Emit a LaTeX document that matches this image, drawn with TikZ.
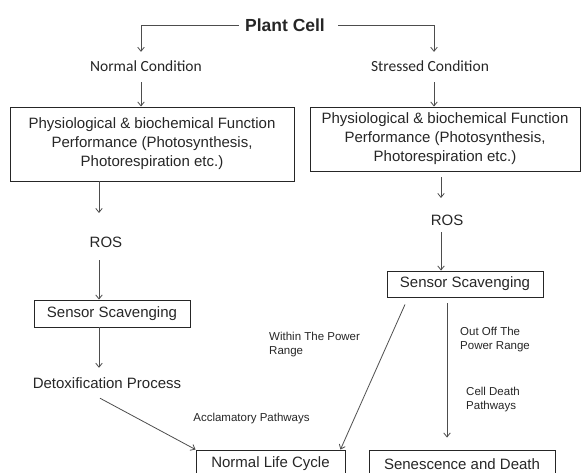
\documentclass[tikz,border=0pt]{standalone}
\usepackage{fontspec}
\setmainfont{Liberation Sans}
\newfontfamily\calfont{Carlito}
\usetikzlibrary{arrows.meta}

\definecolor{inkgray}{HTML}{262626}
\definecolor{linegray}{HTML}{4D4D4D}

\tikzset{
  arr/.style={draw=linegray, line width=0.8pt, -{Straight Barb[length=4pt,width=6.5pt]}},
  box/.style={draw=inkgray, line width=0.9pt, inner sep=0pt, align=center, text=inkgray,
    font=\fontsize{15}{19}\selectfont},
  lbl/.style={inner sep=0pt, text=inkgray, font=\fontsize{15}{18}\selectfont},
  cond/.style={inner sep=0pt, text=inkgray, font=\calfont\fontsize{15.5}{18}\selectfont},
  note/.style={inner sep=0pt, text=inkgray, align=left, font=\fontsize{11.5}{14.5}\selectfont},
}

\begin{document}
\begin{tikzpicture}[x=1pt,y=-1pt]
\useasboundingbox (0,0) rectangle (586,473);
\clip (0,0) rectangle (586,473);

% top of the tree
\node[lbl, font=\bfseries\fontsize{17.5}{20}\selectfont] (plant) at (285,25) {Plant Cell};
\node[cond] (normal) at (146,66) {Normal Condition};
\node[cond] (stressed) at (430,66) {Stressed Condition};

% function boxes
\node[box, minimum width=284pt, minimum height=74pt] (physL) at (152,144)
  {Physiological \& biochemical Function\\Performance (Photosynthesis,\\Photorespiration etc.)};
\node[box, minimum width=270pt, minimum height=64pt] (physR) at (445,139)
  {Physiological \& biochemical Function\\Performance (Photosynthesis,\\Photorespiration etc.)};

% ROS and sensors
\node[lbl] (rosL) at (106,242) {ROS};
\node[lbl] (rosR) at (447,220) {ROS};
\node[box, minimum width=156pt, minimum height=27pt] (sensL) at (112,313.5) {Sensor Scavenging};
\node[box, minimum width=156pt, minimum height=26pt] (sensR) at (465,284) {Sensor Scavenging};
\node[lbl] (detox) at (107,383) {Detoxification Process};

% outcomes
\node[box, minimum width=149pt, minimum height=28pt] (life) at (270.5,464) {Normal Life Cycle};
\node[box, minimum width=186pt, minimum height=28pt] (death) at (462,464) {Senescence and Death};

% pathway notes
\node[note, anchor=west] (within) at (269,344.5) {Within The Power\\Range};
\node[note, anchor=west] (outoff) at (460,339.5) {Out Off The\\Power Range};
\node[note, anchor=west] (celldeath) at (466,399.5) {Cell Death\\Pathways};
\node[note] (acclam) at (251.5,419) {Acclamatory Pathways};

% connectors
\draw[arr] ([xshift=-6pt]plant.west) -| ([xshift=-5pt,yshift=8.5pt]normal.north);
\draw[arr] ([xshift=13pt]plant.east) -| ([xshift=4pt,yshift=8.5pt]stressed.north);
\draw[arr] ([xshift=-5pt,yshift=-10.5pt]normal.south) -- ([xshift=-11pt]physL.north);
\draw[arr] ([xshift=4pt,yshift=-10.5pt]stressed.south) -- ([xshift=-11pt]physR.north);

\draw[arr] ([xshift=-53pt]physL.south) -- ([xshift=-7pt,yshift=23.5pt]rosL.north);
\draw[arr] ([xshift=-7pt,yshift=-12.5pt]rosL.south) -- ([xshift=-13pt]sensL.north);
\draw[arr] ([xshift=-13pt]sensL.south) -- ([xshift=-8pt,yshift=9.5pt]detox.north);
\draw[arr] ([xshift=-7pt,yshift=-9.5pt]detox.south) -- (life.north west);

\draw[arr] ([xshift=-4pt,yshift=-6pt]physR.south) -- ([xshift=-6pt,yshift=16.5pt]rosR.north);
\draw[arr] ([xshift=-6pt,yshift=-6.5pt]rosR.south) -- ([xshift=-24pt]sensR.north);
\draw[arr] ([xshift=-60pt,yshift=-7pt]sensR.south) -- ([xshift=-5pt]life.north east);
\draw[arr] ([xshift=-18pt,yshift=-6pt]sensR.south) -- ([xshift=-15pt,yshift=12pt]death.north);
\end{tikzpicture}
\end{document}
